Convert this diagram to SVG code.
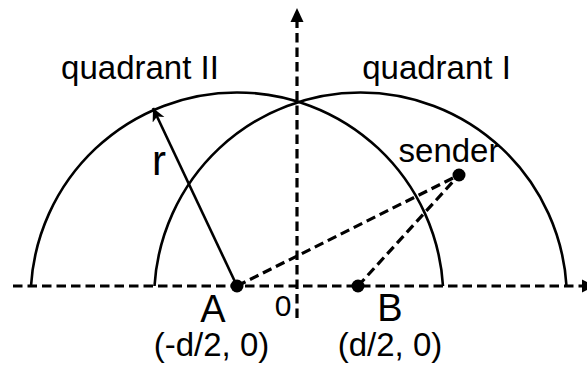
<svg xmlns="http://www.w3.org/2000/svg" width="587" height="367" viewBox="0 0 587 367">
<style>
text{font-family:"Liberation Sans",Arial,sans-serif;fill:#000}
.lbl{font-size:33px}
.big{font-size:38px}
.arc{fill:none;stroke:#000;stroke-width:2.6}
.dash{fill:none;stroke:#000;stroke-width:3.2;stroke-dasharray:9.5 5}
.solid{fill:none;stroke:#000;stroke-width:2.6}
</style>
<defs>
<marker id="ah" markerWidth="16" markerHeight="16" refX="13" refY="6.5" orient="auto" markerUnits="userSpaceOnUse">
<path d="M0,0 L13,6.5 L0,13 L3.5,6.5 Z" fill="#000"/>
</marker>
</defs>
<rect width="587" height="367" fill="#fff"/>
<g id="connectors">
<line class="dash" x1="13" y1="286" x2="584" y2="286"/>
<path d="M582,279.5 L595,286 L582,292.5 Z" fill="#000"/>
<line class="dash" x1="297" y1="318" x2="297" y2="21"/>
<path d="M290.5,22 L297,8 L303.5,22 Z" fill="#000"/>
<line class="dash" x1="237" y1="286" x2="459" y2="175"/>
<line class="dash" x1="358" y1="286" x2="459" y2="175"/>
<line class="solid" x1="237" y1="286" x2="153" y2="108" marker-end="url(#ah)"/>
</g>
<g id="circleA">
<path class="arc" d="M31,286 A206.4,206.4 0 0 1 443,286"/>
</g>
<g id="circleB">
<path class="arc" d="M154.5,286 A206.4,206.4 0 0 1 566.5,286"/>
</g>
<g id="nodeA">
<circle cx="237" cy="286" r="6.5" fill="#000"/>
<text class="big" x="213" y="322" text-anchor="middle">A</text>
<text class="lbl" x="211.5" y="356" text-anchor="middle">(-d/2, 0)</text>
</g>
<g id="nodeB">
<circle cx="358" cy="286" r="6.5" fill="#000"/>
<text class="big" x="390" y="321" text-anchor="middle">B</text>
<text class="lbl" x="390" y="356" text-anchor="middle">(d/2, 0)</text>
</g>
<g id="sender">
<circle cx="459" cy="175" r="6.5" fill="#000"/>
<text class="lbl" x="449" y="162" text-anchor="middle">sender</text>
</g>
<g id="labels">
<text class="lbl" x="140" y="79" text-anchor="middle">quadrant II</text>
<text class="lbl" x="436.5" y="79" text-anchor="middle">quadrant I</text>
<text style="font-size:42px" x="159" y="175" text-anchor="middle">r</text>
<text style="font-size:30px" x="283" y="316" text-anchor="middle">0</text>
</g>
</svg>
